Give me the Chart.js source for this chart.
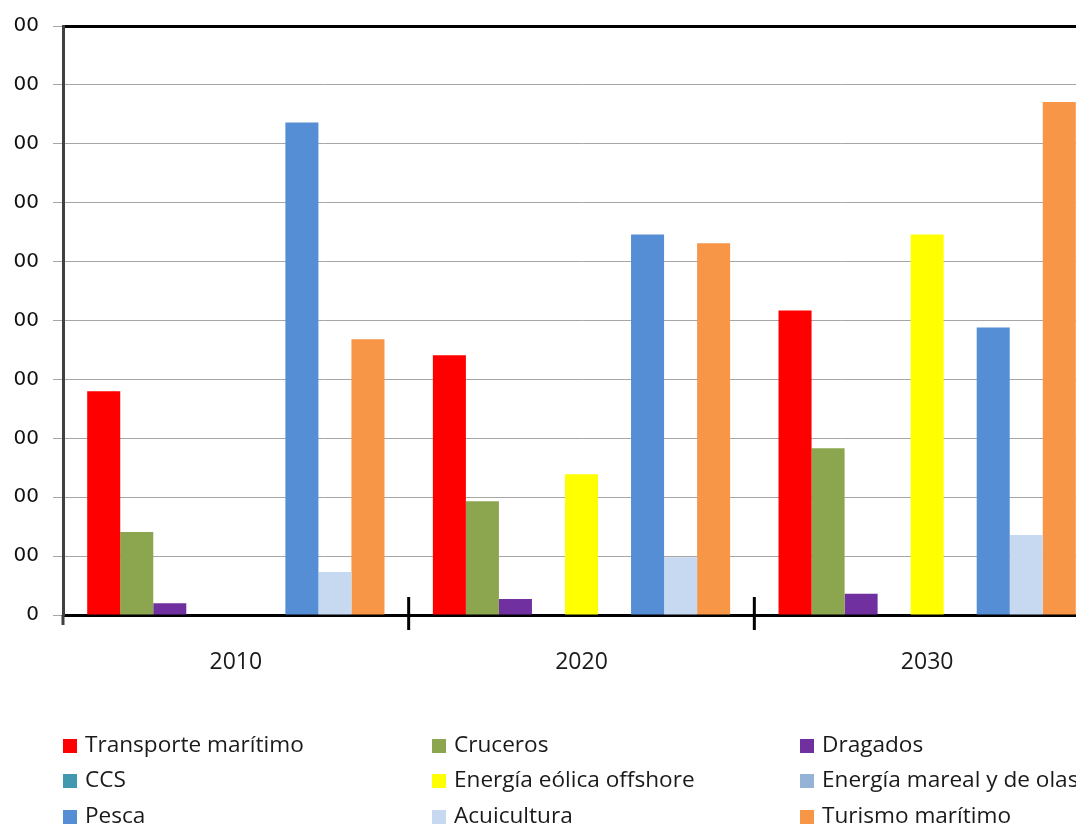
<!DOCTYPE html>
<html>
<head>
<meta charset="utf-8">
<script src="https://cdn.jsdelivr.net/npm/chart.js@4.4.1/dist/chart.umd.min.js"></script>
<style>
  html, body { margin: 0; padding: 0; background: #fff; width: 1076px; height: 828px; overflow: hidden; position: relative; }
  #chart { position: absolute; left: 0; top: 0; }
  #legend { position: absolute; left: 0; top: 0; width: 1076px; height: 828px; pointer-events: none; }
  .item { position: absolute; font-family: "Open Sans", sans-serif; font-size: 22.6px; color: #1a1a1a; white-space: nowrap; line-height: 28px; }
  .item span { display: inline-block; width: 14px; height: 14px; margin-right: 8px; vertical-align: -1px; }
</style>
</head>
<body>
<canvas id="chart" width="1102" height="700"></canvas>
<div id="legend"></div>
<script>
var years = ["2010", "2020", "2030"];
var yTickLabels = ["0", "00", "00", "00", "00", "00", "00", "00", "00", "00", "00"];

var seriesNames = ["Transporte marítimo", "Cruceros", "Dragados", "CCS", "Energía eólica offshore",
                   "Energía mareal y de olas", "Pesca", "Acuicultura", "Turismo marítimo"];
var seriesColors = ["#FF0000", "#8BA64F", "#7030A0", "#4198AF", "#FFFF00",
                    "#95B3D7", "#558ED5", "#C6D9F1", "#F79646"];

var transporte = [3.80, 4.41, 5.17];
var cruceros = [1.41, 1.93, 2.83];
var dragados = [0.20, 0.27, 0.36];
var ccs = [0, 0, 0];
var eolica = [0, 2.39, 6.46];
var mareal = [0, 0, 0];
var pesca = [8.36, 6.46, 4.88];
var acuicultura = [0.73, 0.98, 1.36];
var turismo = [4.68, 6.31, 8.71];

var seriesValues = [transporte, cruceros, dragados, ccs, eolica, mareal, pesca, acuicultura, turismo];

var datasets = [];
for (var i = 0; i < seriesNames.length; i++) {
    datasets.push({
        label: seriesNames[i],
        data: seriesValues[i],
        backgroundColor: seriesColors[i],
        borderWidth: 0,
        categoryPercentage: 0.86,
        barPercentage: 1
    });
}

// tick marks that cross the x axis between the year groups
var groupTicks = {
    id: "groupTicks",
    afterDraw: function(chart) {
        var x = chart.scales.x;
        var ctx = chart.ctx;
        var yb = chart.chartArea.bottom;
        ctx.save();
        ctx.strokeStyle = "#000";
        ctx.lineWidth = 3;
        for (var i = 1; i < years.length; i++) {
            var px = (x.getPixelForTick(i - 1) + x.getPixelForTick(i)) / 2;
            ctx.beginPath();
            ctx.moveTo(px, yb - 18);
            ctx.lineTo(px, yb + 15);
            ctx.stroke();
        }
        // left axis runs a bit below the base line
        ctx.strokeStyle = "#404040";
        ctx.beginPath();
        ctx.moveTo(chart.chartArea.left, yb);
        ctx.lineTo(chart.chartArea.left, yb + 10);
        ctx.stroke();
        ctx.restore();
    }
};

var chart1 = new Chart(document.getElementById("chart"), {
    type: "bar",
    data: { labels: years, datasets: datasets },
    options: {
        responsive: false,
        animation: false,
        layout: { padding: { top: 25, right: 2, left: 0, bottom: 0 } },
        plugins: { legend: { display: false }, tooltip: { enabled: false } },
        scales: {
            x: {
                grid: { display: false },
                border: { display: true, color: "#000", width: 3 },
                ticks: { color: "#1a1a1a", padding: 26, font: { family: "Open Sans", size: 23 } },
                afterFit: function(scale) { scale.height = 85; }
            },
            y: {
                min: 0,
                max: 10,
                ticks: {
                    stepSize: 1,
                    padding: 14,
                    color: "#111",
                    font: { family: "DejaVu Sans", size: 20 },
                    callback: function(value, index) { return yTickLabels[index]; }
                },
                grid: {
                    color: function(c) { return c.tick && c.tick.value === 10 ? "#000" : "#a6a6a6"; },
                    lineWidth: function(c) { return c.tick && c.tick.value === 10 ? 3 : 1; },
                    tickColor: "#a6a6a6",
                    tickWidth: 1,
                    tickLength: 10
                },
                border: { display: true, color: "#404040", width: 3 },
                afterFit: function(scale) { scale.width = 63; }
            }
        }
    },
    plugins: [groupTicks]
});

// legend in three columns, built from the series arrays
var legendCols = [63, 432, 800];
var legendRows = [730, 765, 801];
var legend = document.getElementById("legend");
for (var k = 0; k < seriesNames.length; k++) {
    var div = document.createElement("div");
    div.className = "item";
    div.style.left = legendCols[k % 3] + "px";
    div.style.top = legendRows[Math.floor(k / 3)] + "px";
    div.innerHTML = '<span style="background:' + seriesColors[k] + '"></span>' + seriesNames[k];
    legend.appendChild(div);
}
</script>
</body>
</html>
